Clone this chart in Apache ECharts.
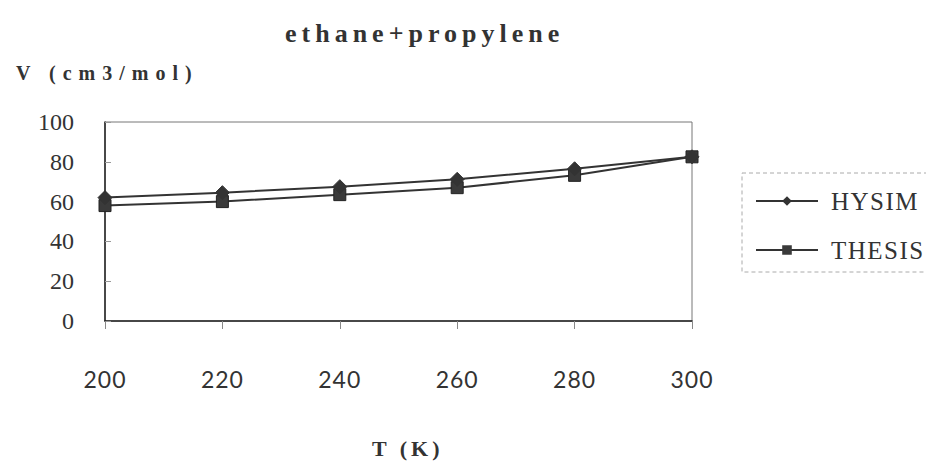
<!DOCTYPE html>
<html>
<head>
<meta charset="utf-8">
<script src="https://cdn.jsdelivr.net/npm/echarts@6/dist/echarts.min.js"></script>
<style>
  html, body { margin: 0; padding: 0; background: #fff; }
  #chart { width: 926px; height: 462px; }
  /* spaced-out lettering, keyed on the font size each text uses */
  #chart text[style*="26px"] { letter-spacing: 5px; }
  #chart text[style*="20px"] { letter-spacing: 7px; }
  #chart text[style*="22px"] { letter-spacing: 4px; }
  #chart text[style*="25px"] { letter-spacing: 1.5px; }
  #chart text[style*="23px"] { letter-spacing: 1px; }
</style>
</head>
<body>
<div id="chart"></div>
<script>
// Molar volume of ethane+propylene vs temperature
const temperatures = [200, 220, 240, 260, 280, 300];
const hysimValues  = [62.0, 64.5, 67.5, 71.2, 76.5, 82.5];
const thesisValues = [58.0, 60.0, 63.5, 67.0, 73.2, 82.5];
const xTicks = [200, 220, 240, 260, 280, 300];
const yTicks = [0, 20, 40, 60, 80, 100];

const ink = '#333';
const serif = '"Liberation Serif", "Times New Roman", serif';

const chart = echarts.init(document.getElementById('chart'), null, { renderer: 'svg' });

chart.setOption({
  animation: false,
  backgroundColor: '#fff',
  title: [
    {
      text: 'ethane+propylene',
      left: 280, top: 15,
      textStyle: { fontFamily: serif, fontWeight: 'bold', fontSize: 26, lineHeight: 26, color: ink }
    },
    {
      text: 'V (cm3/mol)',
      left: 11, top: 58,
      textStyle: { fontFamily: serif, fontWeight: 'bold', fontSize: 20, lineHeight: 20, color: ink }
    },
    {
      text: 'T (K)',
      left: 367, top: 432,
      textStyle: { fontFamily: serif, fontWeight: 'bold', fontSize: 22, lineHeight: 22, color: ink }
    }
  ],
  grid: {
    left: 105, right: 234, top: 122, bottom: 141,
    show: true, borderColor: '#777', borderWidth: 1, backgroundColor: 'transparent'
  },
  legend: {
    orient: 'vertical',
    left: 742, top: 173,
    padding: [13, 60, 7, 13],
    itemGap: 19,
    itemWidth: 62, itemHeight: 12,
    borderColor: '#aaa', borderWidth: 1, borderType: [4, 3],
    textStyle: { fontFamily: serif, fontSize: 25, color: ink, lineHeight: 30, padding: [0, 0, 0, 8] },
    data: ['HYSIM', 'THESIS']
  },
  xAxis: {
    type: 'value',
    min: xTicks[0], max: xTicks[xTicks.length - 1], interval: 20,
    axisLine: { show: true, lineStyle: { color: '#222', width: 1.5 } },
    axisTick: { show: true, inside: false, length: 8, lineStyle: { color: '#888' } },
    axisLabel: {
      margin: 46,
      fontFamily: 'Lato, "Open Sans", sans-serif', fontSize: 23, color: ink,
      formatter: v => xTicks.includes(v) ? String(v) : ''
    },
    splitLine: { show: false }
  },
  yAxis: {
    type: 'value',
    min: yTicks[0], max: yTicks[yTicks.length - 1], interval: 20,
    axisLine: { show: true, lineStyle: { color: '#222', width: 1.5 } },
    axisTick: { show: true, inside: true, length: 6, lineStyle: { color: '#999' } },
    axisLabel: {
      margin: 31,
      fontFamily: serif, fontSize: 24, color: ink,
      formatter: v => yTicks.includes(v) ? String(v) : ''
    },
    splitLine: { show: false }
  },
  series: [
    {
      name: 'HYSIM',
      type: 'line',
      data: temperatures.map((t, i) => [t, hysimValues[i]]),
      symbol: 'diamond', symbolSize: 14,
      lineStyle: { color: ink, width: 2 },
      itemStyle: { color: ink, borderColor: ink },
      z: 3
    },
    {
      name: 'THESIS',
      type: 'line',
      data: temperatures.map((t, i) => [t, thesisValues[i]]),
      symbol: 'rect', symbolSize: 12,
      lineStyle: { color: ink, width: 2 },
      itemStyle: { color: '#3a3a3a', borderColor: '#222' },
      z: 2
    }
  ]
});
</script>
</body>
</html>
